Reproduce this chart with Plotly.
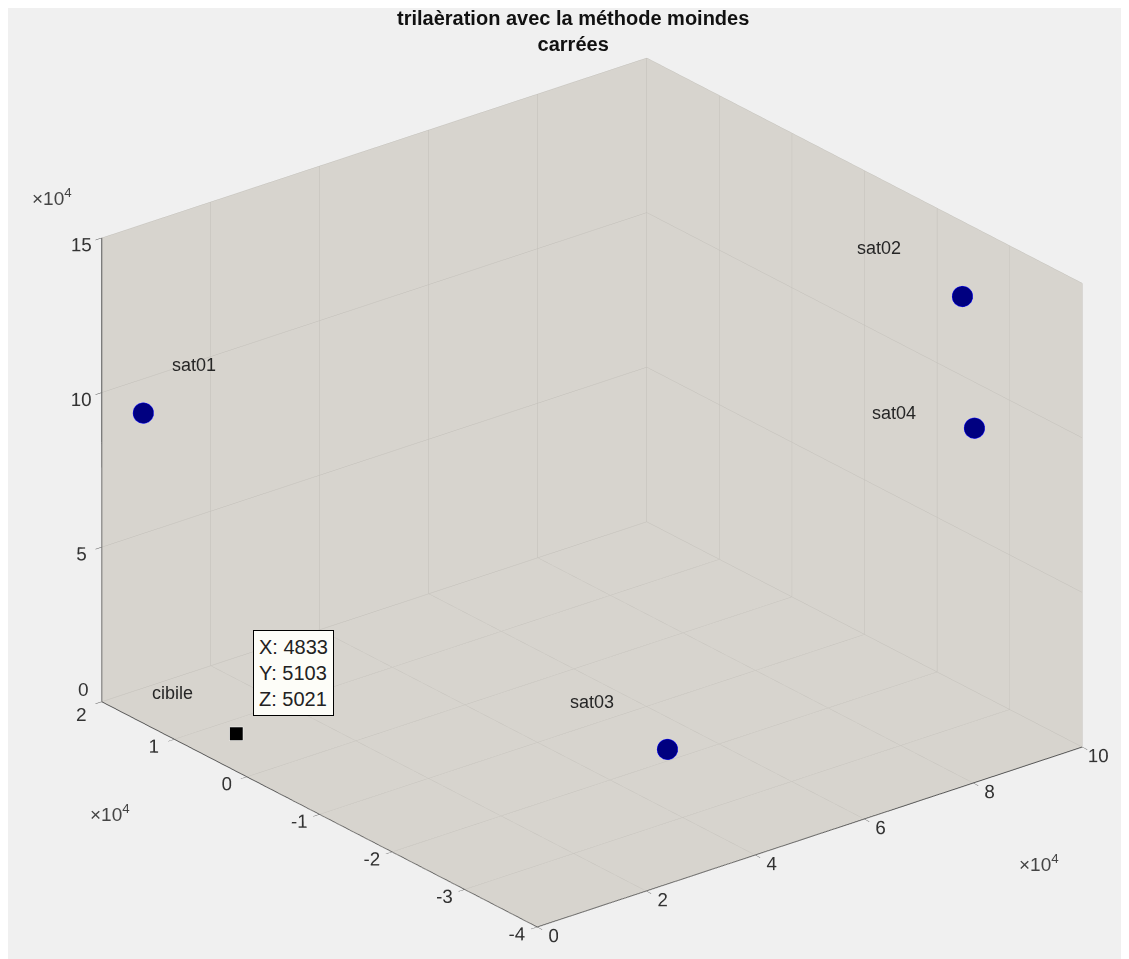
import plotly.graph_objects as go

# Data (units as in the original figure)
sat_names = ["sat01", "sat02", "sat03", "sat04"]
sat_x = [0, 90000, 39700, 90000]
sat_y = [14300, -30970, -28100, -32620]
sat_z = [100400, 140700, 20000, 100100]

target_name = "cibile"
target_x = [4833]
target_y = [5103]
target_z = [5021]

x_ticks = [0, 20000, 40000, 60000, 80000, 100000]
x_tick_text = ["0", "2", "4", "6", "8", "10"]
y_ticks = [-40000, -30000, -20000, -10000, 0, 10000, 20000]
y_tick_text = ["-4", "-3", "-2", "-1", "0", "1", "2"]
z_ticks = [0, 50000, 100000, 150000]
z_tick_text = ["0", "5", "10", "15"]

# label offsets in pixels (x, y-up)
label_shift = {"sat01": (51, 48), "sat02": (-83, 48), "sat03": (-75, 47), "sat04": (-80, 15)}

pane = "#d7d4ce"
grid = "#c2bfb9"
font_fam = "Liberation Sans, Arial, sans-serif"

fig = go.Figure()
fig.add_trace(go.Scatter3d(
    x=sat_x, y=sat_y, z=sat_z, mode="markers",
    marker=dict(size=12, color="#000080", line=dict(color="#1010ff", width=3)),
    showlegend=False, hoverinfo="skip"))
fig.add_trace(go.Scatter3d(
    x=target_x, y=target_y, z=target_z, mode="markers",
    marker=dict(size=7, symbol="square", color="black", line=dict(color="white", width=1)),
    showlegend=False, hoverinfo="skip"))

annotations = []
for n, x, y, z in zip(sat_names, sat_x, sat_y, sat_z):
    dx, dy = label_shift[n]
    annotations.append(dict(x=x, y=y, z=z, text=n, showarrow=False, xshift=dx, yshift=dy,
                            font=dict(size=18, color="#262626", family=font_fam)))
annotations.append(dict(x=target_x[0], y=target_y[0], z=target_z[0], text=target_name,
                        showarrow=False, xshift=-63, yshift=40,
                        font=dict(size=18, color="#262626", family=font_fam)))
annotations.append(dict(x=target_x[0], y=target_y[0], z=target_z[0],
                        text=f"X: {target_x[0]}<br>Y: {target_y[0]}<br>Z: {target_z[0]}",
                        showarrow=False, xshift=58, yshift=60, align="left",
                        bgcolor="#fdfdf8", bordercolor="black", borderwidth=1, borderpad=5,
                        font=dict(size=20, color="#222222", family=font_fam)))

# the shared corner labels (z = 0 and y = 2) are drawn separately so they do not overlap
tick_font = dict(size=15, color="#333333", family=font_fam)
corner_font = dict(size=19, color="#333333", family=font_fam)
annotations.append(dict(x=x_ticks[0], y=y_ticks[-1], z=z_ticks[0], text=z_tick_text[0],
                        showarrow=False, xshift=-18, yshift=12, font=corner_font))
annotations.append(dict(x=x_ticks[0], y=y_ticks[-1], z=z_ticks[0], text=y_tick_text[-1],
                        showarrow=False, xshift=-20, yshift=-13, font=corner_font))
y_tick_shown = y_tick_text[:-1] + [""]
z_tick_shown = [""] + z_tick_text[1:]

def ax(tv, tt, rng):
    return dict(range=rng, tickvals=tv, ticktext=tt, autorange=False, tickangle=0,
                showbackground=True, backgroundcolor=pane, gridcolor=grid, gridwidth=1,
                showline=True, linecolor="#555555", linewidth=2,
                ticks="outside", ticklen=8, tickcolor="#555555",
                zeroline=False, showspikes=False, title=dict(text=""),
                tickfont=tick_font)

s = 1.9
k = 1.515
d = (-0.568, -0.711, 0.413)
xlab_font = dict(size=19, color="#444444", family=font_fam)
fig.update_layout(
    width=1129, height=959,
    paper_bgcolor="#f0f0f0",
    margin=dict(l=0, r=0, t=0, b=0),
    scene=dict(
        domain=dict(x=[0.037, 0.997], y=[0.015, 0.975]),
        xaxis=ax(x_ticks, x_tick_text, [0, 100000]),
        yaxis=ax(y_ticks, y_tick_shown, [-40000, 20000]),
        zaxis=ax(z_ticks, z_tick_shown, [0, 150000]),
        aspectmode="manual", aspectratio=dict(x=1*k, y=1*k, z=0.73*k),
        camera=dict(eye=dict(x=d[0]*s, y=d[1]*s, z=d[2]*s), up=dict(x=0, y=0, z=1),
                    center=dict(x=0, y=0, z=0), projection=dict(type="orthographic")),
        annotations=annotations,
    ),
    annotations=[
        dict(xref="paper", yref="paper", x=0.5, y=1-23/959, xanchor="center", yanchor="middle",
             showarrow=False, text="<b>trilaèration avec la méthode moindes<br>carrées</b>",
             font=dict(size=20, color="#111111", family=font_fam)),
        dict(xref="paper", yref="paper", x=44/1129, y=1-189/959, xanchor="center", yanchor="middle",
             text="×10<sup>4</sup>", showarrow=False, font=xlab_font),
        dict(xref="paper", yref="paper", x=102/1129, y=1-805/959, xanchor="center", yanchor="middle",
             text="×10<sup>4</sup>", showarrow=False, font=xlab_font),
        dict(xref="paper", yref="paper", x=1031/1129, y=1-855/959, xanchor="center", yanchor="middle",
             text="×10<sup>4</sup>", showarrow=False, font=xlab_font),
    ],
)
fig.write_html("out.html")
